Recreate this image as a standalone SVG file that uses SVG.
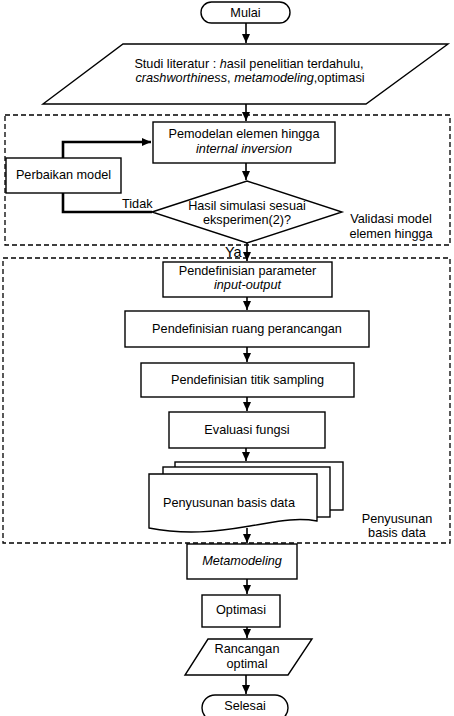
<svg xmlns="http://www.w3.org/2000/svg" width="454" height="716" viewBox="0 0 454 716">
<style>
.s{fill:#fff;stroke:#000;stroke-width:1.4}
.g{fill:none;stroke:#000;stroke-width:1.3;stroke-dasharray:5 3}
.c{fill:none;stroke:#000;stroke-width:1.6}
.f{fill:none;stroke:#000;stroke-width:2.6}
text{font-family:"Liberation Sans",Arial,sans-serif;font-size:12.7px;fill:#000}
.m{text-anchor:middle}
.i{font-style:italic}
</style>
<defs>
<marker id="a" markerUnits="userSpaceOnUse" markerWidth="10" markerHeight="10" viewBox="0 0 10 10" refX="9" refY="5" orient="auto">
<path d="M0,1 L9,5 L0,9 Z" fill="#000"/>
</marker>
</defs>
<g id="groups">
<rect class="g" x="5" y="115" width="445" height="130"/>
<rect class="g" x="3" y="258" width="447" height="285"/>
<text class="m" x="391" y="223">Validasi model</text>
<text class="m" x="391" y="238">elemen hingga</text>
<text class="m" x="397" y="523">Penyusunan</text>
<text class="m" x="397" y="537">basis data</text>
</g>
<g id="connectors">
<line class="c" x1="246" y1="23" x2="246" y2="43" marker-end="url(#a)"/>
<line class="c" x1="246" y1="104" x2="246" y2="121" marker-end="url(#a)"/>
<line class="c" x1="246" y1="163" x2="246" y2="180" marker-end="url(#a)"/>
<polyline class="f" points="63,158 63,142 151,142" marker-end="url(#a)"/>
<polyline class="f" points="63,193 63,212 152,212"/>
<line class="c" x1="247" y1="243" x2="247" y2="261" marker-end="url(#a)"/>
<line class="c" x1="247" y1="297" x2="247" y2="310" marker-end="url(#a)"/>
<line class="c" x1="247" y1="347" x2="247" y2="362" marker-end="url(#a)"/>
<line class="c" x1="247" y1="397" x2="247" y2="411" marker-end="url(#a)"/>
<line class="c" x1="246" y1="448" x2="246" y2="461" marker-end="url(#a)"/>
<line class="c" x1="247" y1="528" x2="247" y2="543" marker-end="url(#a)"/>
<line class="c" x1="247" y1="579" x2="247" y2="594" marker-end="url(#a)"/>
<line class="c" x1="247" y1="627" x2="247" y2="638" marker-end="url(#a)"/>
<line class="c" x1="246" y1="675" x2="246" y2="694" marker-end="url(#a)"/>
<text x="122" y="208">Tidak</text>
<text x="225" y="257" style="font-size:14.5px">Ya</text>
</g>
<g id="mulai">
<rect class="s" x="201" y="2" width="89" height="21" rx="10.5"/>
<text class="m" x="245.5" y="17">Mulai</text>
</g>
<g id="studi">
<polygon class="s" points="123,44 448,44 366,104 43,104"/>
<text class="m" x="249" y="68">Studi literatur : <tspan class="i">h</tspan>asil penelitian terdahulu,</text>
<text class="m" x="250" y="82"><tspan class="i">crashworthiness</tspan>, <tspan class="i">metamodeling</tspan>,optimasi</text>
</g>
<g id="pemodelan">
<rect class="s" x="153" y="122" width="182" height="41"/>
<text class="m" x="244" y="138">Pemodelan elemen hingga</text>
<text class="m i" x="244" y="153">internal inversion</text>
</g>
<g id="perbaikan">
<rect class="s" x="6" y="158" width="115" height="35"/>
<text class="m" x="63.5" y="179">Perbaikan model</text>
</g>
<g id="hasil">
<polygon class="s" points="152,212 247,181 342,212 247,243"/>
<text class="m" x="247" y="210">Hasil simulasi sesuai</text>
<text class="m" x="247" y="224">eksperimen(2)?</text>
</g>
<g id="parameter">
<rect class="s" x="163" y="262" width="169" height="35"/>
<text class="m" x="247.5" y="275">Pendefinisian parameter</text>
<text class="m i" x="247.5" y="289">input-output</text>
</g>
<g id="ruang">
<rect class="s" x="125" y="311" width="244" height="36"/>
<text class="m" x="247" y="333">Pendefinisian ruang perancangan</text>
</g>
<g id="titik">
<rect class="s" x="141" y="363" width="213" height="34"/>
<text class="m" x="247.5" y="384">Pendefinisian titik sampling</text>
</g>
<g id="evaluasi">
<rect class="s" x="169" y="412" width="156" height="36"/>
<text class="m" x="247" y="434">Evaluasi fungsi</text>
</g>
<g id="basisdata">
<rect class="s" x="175" y="462" width="168" height="48"/>
<rect class="s" x="163" y="467" width="167" height="50"/>
<path class="s" d="M149,474 H317 V521 C295,517 275,522 250,526 C215,532 185,535 149,528 Z"/>
<text class="m" x="229" y="507">Penyusunan basis data</text>
</g>
<g id="metamodeling">
<rect class="s" x="187" y="544" width="110" height="35"/>
<text class="m i" x="242" y="565">Metamodeling</text>
</g>
<g id="optimasi">
<rect class="s" x="202" y="595" width="78" height="32"/>
<text class="m" x="241" y="614">Optimasi</text>
</g>
<g id="rancangan">
<polygon class="s" points="208,639 312,639 288,675 185,675"/>
<text class="m" x="247" y="653">Rancangan</text>
<text class="m" x="247" y="668">optimal</text>
</g>
<g id="selesai">
<rect class="s" x="202" y="695" width="86" height="26" rx="13"/>
<text class="m" x="245" y="710">Selesai</text>
</g>
</svg>
